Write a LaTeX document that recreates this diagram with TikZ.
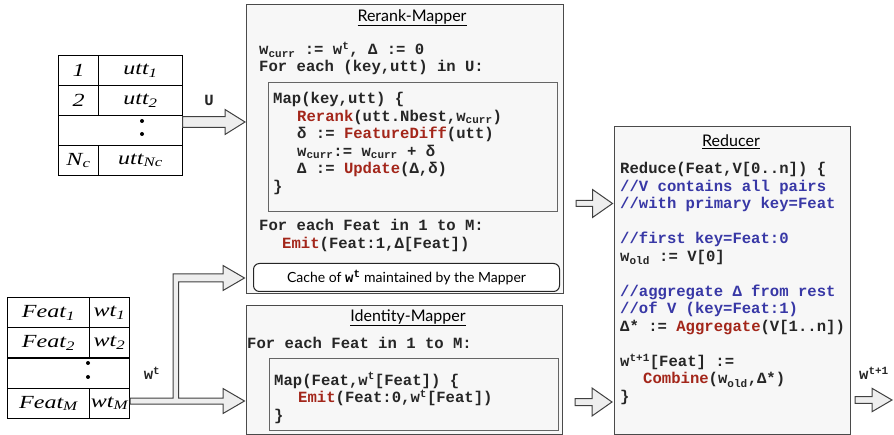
\documentclass[tikz,border=0pt]{standalone}
\usepackage{fontspec}
\newfontfamily\codefont{Liberation Mono}
\newfontfamily\serifface{Liberation Serif}
\newfontfamily\titleface{Lato}
\definecolor{boxc}{HTML}{4A4A4A}
\definecolor{boxf}{HTML}{F7F7F7}
\definecolor{fnred}{HTML}{A3261A}
\definecolor{cmtblue}{HTML}{3838A6}
\definecolor{codec}{HTML}{262626}
\definecolor{arrf}{HTML}{EEEEEE}
\newcommand\tabtxt[1]{\scalebox{1.3}[1]{\serifface\itshape\fontsize{18.5}{18.5}\selectfont #1}}
\newcommand\fn[1]{\textcolor{fnred}{#1}}
\newcommand\wsub[1]{w\textsubscript{\fontsize{11}{11}\selectfont #1}}
\newcommand\wsup[1]{w\textsuperscript{\fontsize{11}{11}\selectfont #1}}
\newcommand\barrow[5]{%
  \draw[blockarr] (#1,#3-#4) -- (#2-20,#3-#4) -- (#2-20,#3-#5) -- (#2,#3)
     -- (#2-20,#3+#5) -- (#2-20,#3+#4) -- (#1,#3+#4) -- cycle;}
\begin{document}
\begin{tikzpicture}[x=1pt,y=-1pt,
  bigbox/.style={draw=boxc,fill=boxf,line width=1.2pt,anchor=north west,inner sep=0},
  innerbox/.style={draw=boxc!85,line width=1.1pt,anchor=north west,inner sep=0},
  cell/.style={draw=black,line width=1.1pt,anchor=north west,inner sep=0},
  dotn/.style={circle,fill=black,inner sep=0,minimum size=4pt},
  code/.style={anchor=base west,inner sep=0,text=codec,
    font=\codefont\bfseries\fontsize{15.6}{17.5}\selectfont},
  cmt/.style={code,text=cmtblue},
  ttl/.style={inner sep=0,font=\titleface\fontsize{16}{16}\selectfont},
  blockarr/.style={draw=black!75,fill=arrf,line width=1pt,line join=miter}]
\useasboundingbox (0,0) rectangle (894,435);

% ---------- top table ----------
\node[cell,minimum width=40pt,minimum height=30pt] (t11) at (58,55) {\tabtxt{1}};
\node[cell,minimum width=84pt,minimum height=30pt] (t12) at (98,55) {\tabtxt{utt\textsubscript{1}}};
\node[cell,minimum width=40pt,minimum height=30pt] (t21) at (58,85) {\tabtxt{2}};
\node[cell,minimum width=84pt,minimum height=30pt] (t22) at (98,85) {\tabtxt{utt\textsubscript{2}}};
\node[cell,minimum width=124pt,minimum height=30pt] (t3) at (58,115) {};
\node[dotn] (td1) at (142,121) {};
\node[dotn] (td2) at (142,134) {};
\node[cell,minimum width=40pt,minimum height=30pt] (t41) at (58,145) {\tabtxt{N\textsubscript{c}}};
\node[cell,minimum width=84pt,minimum height=30pt] (t42) at (98,145) {\tabtxt{utt\textsubscript{Nc}}};

% ---------- bottom table ----------
\node[cell,minimum width=82pt,minimum height=30.25pt] (b11) at (7,297) {\tabtxt{Feat\textsubscript{1}}};
\node[cell,minimum width=40pt,minimum height=30.25pt] (b12) at (89,297) {\tabtxt{wt\textsubscript{1}}};
\node[cell,minimum width=82pt,minimum height=30.25pt] (b21) at (7,327.25) {\tabtxt{Feat\textsubscript{2}}};
\node[cell,minimum width=40pt,minimum height=30.25pt] (b22) at (89,327.25) {\tabtxt{wt\textsubscript{2}}};
\node[cell,minimum width=122pt,minimum height=30.25pt] (b3) at (7,357.5) {};
\node[dotn] (bd1) at (88,363) {};
\node[dotn] (bd2) at (88,377) {};
\node[cell,minimum width=82pt,minimum height=30.25pt] (b41) at (7,387.75) {\tabtxt{Feat\textsubscript{M}}};
\node[cell,minimum width=40pt,minimum height=30.25pt] (b42) at (89,387.75) {\tabtxt{wt\textsubscript{M}}};

% ---------- Rerank-Mapper ----------
\node[bigbox,minimum width=317pt,minimum height=289pt] (rerank) at (246,4) {};
\node[ttl] (rtitle) at (412,18) {\underline{Rerank-Mapper}};
\node[code] (r1) at (259,55) {\wsub{curr} := \wsup{t}, Δ := 0};
\node[code] (r2) at (259,72) {For each (key,utt) in U:};
\node[innerbox,minimum width=289pt,minimum height=129pt] (mapbox) at (268,82) {};
\node[code] (m1) at (273,104) {Map(key,utt) \{};
\node[code] (m2) at (297,121.5) {\fn{Rerank}(utt.Nbest,\wsub{curr})};
\node[code] (m3) at (297,139) {δ := \fn{FeatureDiff}(utt)};
\node[code] (m4) at (297,156.5) {\wsub{curr}:= \wsub{curr} + δ};
\node[code] (m5) at (297,174) {Δ := \fn{Update}(Δ,δ)};
\node[code] (m6) at (273,191.5) {\}};
\node[code] (r3) at (259,231) {For each Feat in 1 to M:};
\node[code] (r4) at (282,248.5) {\fn{Emit}(Feat:1,Δ[Feat])};
\node[draw=black!85,line width=1pt,rounded corners=6pt,fill=white,anchor=north west,
      minimum width=306pt,minimum height=28pt,inner sep=0] (cache) at (253,263) {};
\node[inner sep=0,font=\titleface\fontsize{14}{14}\selectfont] (cachet) at (cache.center)
  {Cache of {\codefont\bfseries\wsup{t}} maintained by the Mapper};

% ---------- Identity-Mapper ----------
\node[bigbox,minimum width=316pt,minimum height=129pt] (ident) at (246,305) {};
\node[ttl] (ititle) at (408,318) {\underline{Identity-Mapper}};
\node[code] (i1) at (247,349) {For each Feat in 1 to M:};
\node[innerbox,minimum width=289pt,minimum height=72pt] (imap) at (269,358) {};
\node[code] (i2) at (274,385) {Map(Feat,\wsup{t}[Feat]) \{};
\node[code] (i3) at (298,402.5) {\fn{Emit}(Feat:0,\wsup{t}[Feat])};
\node[code] (i4) at (274,420) {\}};

% ---------- Reducer ----------
\node[bigbox,minimum width=236pt,minimum height=308pt] (red) at (614,126) {};
\node[ttl] (redt) at (731,142) {\underline{Reducer}};
\node[code] (c1) at (620,174) {Reduce(Feat,V[0..n]) \{};
\node[cmt] (c2) at (620,191.5) {//V contains all pairs};
\node[cmt] (c3) at (620,209) {//with primary key=Feat};
\node[cmt] (c4) at (620,244) {//first key=Feat:0};
\node[code] (c5) at (620,261.5) {\wsub{old} := V[0]};
\node[cmt] (c6) at (620,296.5) {//aggregate Δ from rest};
\node[cmt] (c7) at (620,314) {//of V (key=Feat:1)};
\node[code] (c8) at (620,331.5) {Δ* := \fn{Aggregate}(V[1..n])};
\node[code] (c9) at (620,366.5) {\wsup{t+1}[Feat] :=};
\node[code] (c10) at (643,384) {\fn{Combine}(\wsub{old},Δ*)};
\node[code] (c11) at (620,401.5) {\}};

% ---------- labels ----------
\node[code,anchor=center] (lu) at (209,100) {U};
\node[code,anchor=center] (lw) at (152,373) {\wsup{t}};
\node[code,anchor=center] (lw1) at (874,373) {\wsup{t+1}};

% ---------- block arrows ----------
\barrow{182.5}{245}{122}{5.3}{12.5}
\barrow{576}{612.5}{203.5}{3}{14}
\barrow{575}{612}{402}{3.5}{14}
\barrow{855}{892}{400}{3.3}{11.7}
\draw[blockarr] (130,398) -- (173,398) -- (173,274) -- (223,274) -- (223,265.5) -- (244.5,278)
  -- (223,290.5) -- (223,282) -- (178.5,282) -- (178.5,398) -- (223,398) -- (223,388.5)
  -- (244.5,401) -- (223,413.5) -- (223,404) -- (130,404) -- cycle;
\end{tikzpicture}
\end{document}
